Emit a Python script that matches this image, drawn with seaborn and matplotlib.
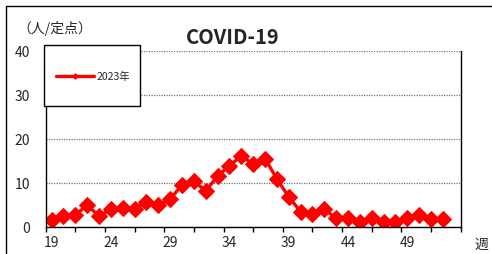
import numpy as np
import pandas as pd
import matplotlib
matplotlib.use("Agg")
import matplotlib.pyplot as plt
from matplotlib.patches import Rectangle
import seaborn as sns

# -----------------------------
# Data
# -----------------------------
weeks = list(range(19, 53))
cases_2023 = [1.5, 2.4, 2.7, 4.9, 2.4, 4.0, 4.2, 4.0, 5.7, 4.9,
              6.3, 9.5, 10.3, 8.2, 11.5, 13.9, 16.1, 14.2, 15.5, 10.8,
              6.8, 3.4, 3.0, 4.0, 1.9, 2.0, 1.0, 1.9, 1.1, 1.0,
              1.9, 2.7, 1.75, 1.75]
x_labels = [19, 24, 29, 34, 39, 44, 49]
y_ticks = [0, 10, 20, 30, 40]

df = pd.DataFrame({"week": weeks, "value": cases_2023})

sns.set_style("white")
plt.rcParams["font.family"] = ["Noto Sans CJK JP", "DejaVu Sans"]

fig = plt.figure(figsize=(4.92, 2.55), dpi=100)
ax = fig.add_axes([0.0929, 0.107, 0.8435, 0.690])

# outer chart border
fig.patches.append(Rectangle((6 / 492, -0.1), 1.2, (255 - 7) / 255 + 0.1,
                             transform=fig.transFigure, fill=False,
                             edgecolor="black", linewidth=1.0))

sns.lineplot(data=df, x="week", y="value", ax=ax, color="#FF0000",
             linewidth=2.4, marker="D", markersize=8,
             markeredgecolor="#FF0000", label="2023年")

ax.set_xlim(18.5, 53.5)
ax.set_ylim(0, 40)

# gridlines
ax.set_yticks(y_ticks)
ax.yaxis.grid(True, linestyle=(0, (1, 1)), color="#777777", linewidth=0.9)
ax.set_yticklabels([str(v) for v in y_ticks], fontsize=10)
ax.tick_params(axis="y", length=0, pad=11)

# x ticks: marks every 2.5 weeks, labels every 5
ax.set_xticks(np.arange(18.5, 53.6, 2.5))
ax.set_xticklabels([])
ax.tick_params(axis="x", which="major", direction="out", length=3.5,
               width=1, color="black", bottom=True)
ax.set_xticks(x_labels, minor=True)
ax.set_xticklabels([str(v) for v in x_labels], minor=True, fontsize=10)
ax.tick_params(axis="x", which="minor", length=0, pad=6)

for side in ["left", "bottom", "right"]:
    ax.spines[side].set_visible(True)
    ax.spines[side].set_color("black")
    ax.spines[side].set_linewidth(1.0)
ax.spines["top"].set_visible(False)

ax.set_xlabel("")
ax.set_ylabel("")

fig.text(233 / 492, 1 - 37 / 255, "COVID-19", ha="center", va="center",
         fontsize=14.5, fontweight="bold")
fig.text(17 / 492, 1 - 28 / 255, "（人/定点）", ha="left", va="center",
         fontsize=10)
fig.text(481 / 492, 1 - 245 / 255, "週", ha="center", va="center",
         fontsize=10)

# legend box
ax.add_patch(Rectangle((-0.004, 0.686), 0.231, 0.346, transform=ax.transAxes,
                       facecolor="white", edgecolor="black", linewidth=1.0,
                       zorder=4, clip_on=False))
leg = ax.legend(loc="center left", bbox_to_anchor=(0.025, 0.856),
                frameon=False, fontsize=7.5, handlelength=3.6,
                handletextpad=0.3, borderpad=0, borderaxespad=0,
                markerscale=0.35)
leg.set_zorder(5)

plt.savefig("out.png", dpi=100)
plt.close()
